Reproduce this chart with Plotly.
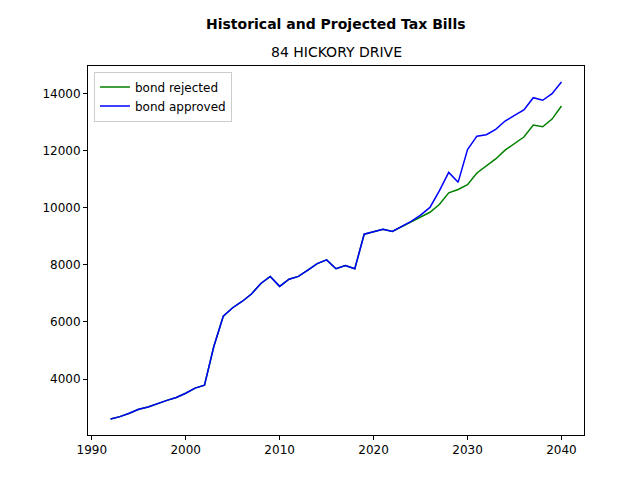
import plotly.graph_objects as go

years = list(range(1992, 2041))
common = [2600, 2680, 2800, 2940, 3020, 3140, 3250, 3350, 3500, 3680, 3780, 5150, 6200, 6500, 6720,
          6980, 7350, 7600, 7250, 7500, 7600, 7820, 8050, 8180, 7870, 7980, 7870, 9080, 9160, 9250,
          9180, 9350, 9530]
rejected_tail = [9700, 9850, 10120, 10530, 10650, 10820, 11230, 11480, 11720, 12030, 12250, 12490,
                 12910, 12850, 13120, 13580]
approved_tail = [9750, 10020, 10600, 11250, 10900, 12050, 12520, 12570, 12760, 13050, 13250, 13440,
                 13870, 13780, 14010, 14420]
rejected = common + rejected_tail
approved = common + approved_tail
ytick_vals = [4000, 6000, 8000, 10000, 12000, 14000]
ytick_text = ["4000", "6000", "8000", "10000", "12000", "14000"]

fig = go.Figure()
fig.add_trace(go.Scatter(x=years, y=rejected, mode="lines", name="bond rejected",
                         line=dict(color="green", width=1.5)))
fig.add_trace(go.Scatter(x=years, y=approved, mode="lines", name="bond approved",
                         line=dict(color="blue", width=1.5)))

axis = dict(showgrid=False, zeroline=False, showline=True, linecolor="black", linewidth=1,
            mirror=True, ticks="outside", ticklen=4, tickcolor="black",
            tickfont=dict(size=12, color="black"))
fig.update_layout(
    width=640, height=480, paper_bgcolor="white", plot_bgcolor="white",
    margin=dict(l=80, r=64, t=58, b=53, autoexpand=False),
    font=dict(family="DejaVu Sans", color="black"),
    xaxis=dict(axis, range=[1989.6, 2042.4], tickvals=[1990, 2000, 2010, 2020, 2030, 2040]),
    yaxis=dict(axis, range=[2035, 14982], tickvals=ytick_vals, ticktext=ytick_text),
    legend=dict(x=0.012, y=0.985, xanchor="left", yanchor="top", bordercolor="#cccccc",
                borderwidth=1, bgcolor="white", font=dict(size=12)),
    showlegend=True,
    annotations=[
        dict(text="<b>Historical and Projected Tax Bills</b>", x=0.5, y=1.0, xref="paper",
             yref="paper", yanchor="bottom", yshift=32, showarrow=False, font=dict(size=14)),
        dict(text="84 HICKORY DRIVE", x=0.5, y=1.0, xref="paper", yref="paper",
             yanchor="bottom", yshift=4, showarrow=False, font=dict(size=14)),
    ],
)
fig.write_html("out.html")
